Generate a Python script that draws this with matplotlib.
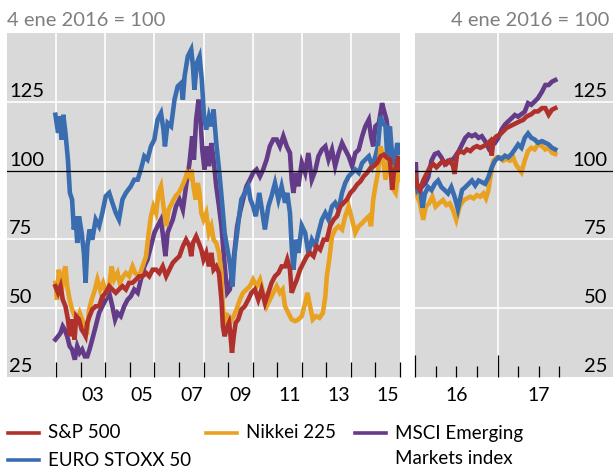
import matplotlib
matplotlib.use("Agg")
import matplotlib.pyplot as plt
from matplotlib.lines import Line2D
from matplotlib.transforms import blended_transform_factory

plt.rcParams['font.family'] = ['Lato', 'DejaVu Sans']

# ---------------- data (index, 4 ene 2016 = 100) ----------------
# Left panel: 2002 - 2016
sp_years = [2001.97, 2002.08, 2002.18, 2002.27, 2002.38, 2002.48, 2002.56, 2002.65, 2002.75, 2002.82, 2002.93,
            2003.04, 2003.13, 2003.20, 2003.27, 2003.36, 2003.47, 2003.61, 2003.75, 2003.88, 2004.02, 2004.16,
            2004.29, 2004.43, 2004.56, 2004.70, 2004.84, 2004.97, 2005.11, 2005.25, 2005.38, 2005.52, 2005.66,
            2005.79, 2005.93, 2006.07, 2006.20, 2006.34, 2006.48, 2006.61, 2006.75, 2006.88, 2007.02, 2007.16,
            2007.29, 2007.43, 2007.50, 2007.57, 2007.70, 2007.81, 2007.91, 2008.00, 2008.11, 2008.22, 2008.32,
            2008.41, 2008.52, 2008.63, 2008.73, 2008.79, 2008.86, 2008.93, 2009.04, 2009.09, 2009.16, 2009.23,
            2009.31, 2009.41, 2009.54, 2009.68, 2009.82, 2009.95, 2010.09, 2010.23, 2010.36, 2010.50, 2010.64,
            2010.77, 2010.91, 2011.05, 2011.18, 2011.32, 2011.41, 2011.52, 2011.59, 2011.69, 2011.80, 2011.93,
            2012.07, 2012.21, 2012.34, 2012.48, 2012.61, 2012.75, 2012.89, 2013.02, 2013.16, 2013.30, 2013.43,
            2013.57, 2013.71, 2013.84, 2013.98, 2014.11, 2014.25, 2014.39, 2014.52, 2014.66, 2014.80, 2014.93,
            2015.07, 2015.21, 2015.34, 2015.48, 2015.59, 2015.68, 2015.75, 2015.85, 2015.93, 2016.00]
sp_vals = [58.0, 55.6, 58.0, 53.1, 50.7, 45.9, 39.8, 45.9, 38.6, 47.1, 45.9,
           42.2, 41.0, 39.8, 44.7, 47.1, 49.5, 50.7, 50.7, 54.3, 55.6, 58.0,
           56.8, 55.6, 56.8, 58.0, 56.8, 59.2, 59.2, 60.4, 61.6, 61.6, 62.8,
           61.6, 64.0, 64.0, 62.8, 65.2, 61.6, 64.0, 66.5, 67.7, 68.9, 72.5,
           74.9, 72.5, 68.9, 73.7, 76.1, 73.7, 71.3, 67.7, 70.1, 65.2, 70.1,
           64.0, 65.2, 62.8, 53.1, 43.4, 39.8, 42.2, 44.7, 41.0, 33.8, 39.8,
           44.7, 45.9, 49.5, 50.7, 53.1, 55.6, 56.8, 53.1, 56.8, 51.9, 55.6,
           59.2, 61.6, 62.8, 65.2, 65.2, 67.7, 64.0, 55.6, 58.0, 60.4, 64.0,
           66.5, 68.9, 70.1, 68.9, 72.5, 71.3, 74.9, 74.9, 80.0, 82.2, 83.4,
           87.0, 88.3, 89.5, 91.9, 93.1, 94.9, 96.1, 97.9, 99.2, 101.0, 101.6,
           102.8, 105.2, 105.8, 104.6, 104.0, 93.1, 99.2, 101.6, 105.2, 100.4]

eu_years = [2001.97, 2002.08, 2002.15, 2002.22, 2002.29, 2002.38, 2002.48, 2002.56, 2002.65, 2002.72, 2002.79,
            2002.86, 2002.93, 2003.04, 2003.13, 2003.20, 2003.27, 2003.36, 2003.47, 2003.61, 2003.75, 2003.88,
            2004.02, 2004.16, 2004.29, 2004.43, 2004.56, 2004.70, 2004.84, 2005.04, 2005.18, 2005.32, 2005.45,
            2005.59, 2005.72, 2005.86, 2006.00, 2006.13, 2006.27, 2006.37, 2006.43, 2006.54, 2006.68, 2006.82,
            2006.95, 2007.09, 2007.16, 2007.23, 2007.36, 2007.50, 2007.57, 2007.63, 2007.73, 2007.84, 2007.93,
            2008.02, 2008.11, 2008.22, 2008.32, 2008.41, 2008.52, 2008.66, 2008.77, 2008.86, 2009.00, 2009.09,
            2009.18, 2009.27, 2009.37, 2009.45, 2009.54, 2009.68, 2009.82, 2009.91, 2010.02, 2010.13, 2010.27,
            2010.40, 2010.50, 2010.64, 2010.77, 2010.91, 2011.05, 2011.18, 2011.32, 2011.41, 2011.52, 2011.59,
            2011.66, 2011.77, 2011.86, 2012.00, 2012.14, 2012.27, 2012.41, 2012.55, 2012.68, 2012.82, 2012.96,
            2013.09, 2013.23, 2013.36, 2013.50, 2013.64, 2013.77, 2013.91, 2014.05, 2014.18, 2014.32, 2014.46,
            2014.59, 2014.73, 2014.87, 2015.00, 2015.10, 2015.21, 2015.30, 2015.41, 2015.48, 2015.59, 2015.68,
            2015.78, 2015.89, 2016.00]
eu_vals = [120.3, 113.7, 119.7, 111.3, 120.3, 113.7, 104.0, 91.9, 89.5, 78.6, 83.4,
           73.7, 83.4, 77.4, 70.1, 59.2, 72.5, 78.6, 74.9, 82.2, 79.8, 84.6,
           90.7, 91.9, 88.3, 84.6, 82.2, 89.5, 91.9, 94.3, 96.7, 96.7, 100.4,
           105.2, 104.0, 108.8, 111.3, 118.5, 120.9, 114.9, 108.8, 117.3, 116.1, 125.8,
           130.6, 131.8, 125.8, 134.3, 141.5, 144.0, 137.9, 129.4, 139.1, 141.5, 133.1,
           119.7, 114.9, 119.7, 116.1, 122.2, 110.0, 97.9, 87.0, 77.4, 70.1, 65.2,
           57.9, 70.1, 77.4, 83.4, 89.5, 91.9, 94.3, 89.5, 87.0, 83.4, 91.9,
           84.6, 78.6, 87.0, 90.7, 95.5, 89.5, 94.3, 88.3, 91.9, 84.6, 72.5,
           64.0, 74.9, 70.1, 80.0, 77.4, 70.1, 74.9, 72.5, 77.4, 82.2, 84.6,
           82.2, 87.0, 88.3, 85.8, 91.9, 95.5, 97.9, 99.2, 100.4, 99.2, 102.8,
           104.0, 105.2, 101.6, 105.2, 108.8, 119.7, 117.3, 116.1, 105.2, 116.1, 105.2,
           102.8, 110.0, 106.4]

nk_years = [2001.97, 2002.04, 2002.11, 2002.22, 2002.31, 2002.38, 2002.45, 2002.55, 2002.65, 2002.76, 2002.86,
            2002.96, 2003.06, 2003.16, 2003.27, 2003.34, 2003.45, 2003.58, 2003.68, 2003.79, 2003.91, 2004.02,
            2004.16, 2004.26, 2004.36, 2004.50, 2004.59, 2004.73, 2004.84, 2004.97, 2005.11, 2005.22, 2005.38,
            2005.52, 2005.66, 2005.77, 2005.86, 2005.96, 2006.07, 2006.17, 2006.27, 2006.37, 2006.48, 2006.58,
            2006.72, 2006.86, 2006.99, 2007.13, 2007.24, 2007.33, 2007.43, 2007.51, 2007.59, 2007.68, 2007.77,
            2007.84, 2007.91, 2008.00, 2008.11, 2008.22, 2008.32, 2008.41, 2008.52, 2008.63, 2008.73, 2008.79,
            2008.86, 2008.93, 2009.04, 2009.14, 2009.23, 2009.34, 2009.48, 2009.61, 2009.75, 2009.89, 2010.02,
            2010.16, 2010.30, 2010.43, 2010.57, 2010.70, 2010.84, 2010.98, 2011.11, 2011.22, 2011.32, 2011.45,
            2011.59, 2011.73, 2011.86, 2012.00, 2012.14, 2012.23, 2012.34, 2012.45, 2012.59, 2012.72, 2012.86,
            2012.96, 2013.02, 2013.12, 2013.23, 2013.36, 2013.50, 2013.64, 2013.77, 2013.91, 2014.05, 2014.18,
            2014.32, 2014.46, 2014.59, 2014.73, 2014.82, 2014.91, 2015.00, 2015.10, 2015.21, 2015.30, 2015.41,
            2015.52, 2015.64, 2015.73, 2015.82, 2015.92, 2016.00]
nk_vals = [59.2, 53.1, 64.0, 55.6, 62.8, 65.2, 58.0, 53.1, 49.5, 47.1, 45.9,
           48.3, 45.9, 43.4, 42.2, 49.5, 53.1, 56.8, 60.4, 56.8, 59.2, 55.6,
           58.0, 65.2, 60.4, 62.8, 59.2, 61.6, 62.8, 61.6, 65.2, 62.8, 61.6,
           65.2, 68.9, 77.4, 83.4, 87.0, 84.6, 91.9, 94.3, 87.0, 79.8, 85.8,
           88.3, 90.7, 91.9, 94.3, 96.7, 99.2, 97.9, 100.4, 94.3, 89.5, 95.5,
           91.9, 84.6, 82.2, 84.6, 77.4, 79.8, 74.9, 73.7, 70.1, 62.8, 50.7,
           41.0, 48.3, 43.4, 45.9, 47.1, 49.5, 53.1, 55.6, 56.8, 58.0, 60.4,
           58.0, 60.4, 55.6, 50.7, 53.1, 55.6, 58.0, 55.6, 56.8, 50.7, 48.3,
           45.9, 45.3, 45.9, 47.1, 51.9, 55.6, 50.7, 45.9, 47.1, 46.5, 48.3,
           54.3, 61.6, 67.7, 76.1, 78.6, 79.8, 78.6, 83.4, 87.0, 82.2, 77.4,
           79.8, 80.9, 82.2, 83.4, 79.8, 89.5, 94.3, 99.2, 108.8, 105.2, 96.7,
           102.8, 101.6, 93.1, 91.9, 99.2, 96.7]

em_years = [2001.97, 2002.08, 2002.18, 2002.27, 2002.35, 2002.45, 2002.55, 2002.65, 2002.76, 2002.86, 2002.96,
            2003.06, 2003.17, 2003.27, 2003.36, 2003.47, 2003.61, 2003.75, 2003.88, 2004.02, 2004.16, 2004.29,
            2004.40, 2004.50, 2004.63, 2004.77, 2004.91, 2005.04, 2005.18, 2005.32, 2005.45, 2005.59, 2005.72,
            2005.86, 2006.00, 2006.13, 2006.27, 2006.37, 2006.45, 2006.54, 2006.64, 2006.75, 2006.88, 2007.02,
            2007.16, 2007.29, 2007.43, 2007.54, 2007.61, 2007.70, 2007.80, 2007.88, 2007.95, 2008.04, 2008.14,
            2008.22, 2008.32, 2008.41, 2008.52, 2008.63, 2008.73, 2008.82, 2008.90, 2008.97, 2009.07, 2009.16,
            2009.27, 2009.37, 2009.48, 2009.61, 2009.75, 2009.89, 2010.02, 2010.16, 2010.30, 2010.43, 2010.57,
            2010.70, 2010.84, 2010.98, 2011.11, 2011.25, 2011.39, 2011.52, 2011.59, 2011.66, 2011.77, 2011.86,
            2012.00, 2012.14, 2012.27, 2012.41, 2012.55, 2012.68, 2012.82, 2012.96, 2013.09, 2013.23, 2013.36,
            2013.50, 2013.64, 2013.77, 2013.91, 2014.05, 2014.18, 2014.32, 2014.46, 2014.59, 2014.73, 2014.82,
            2014.91, 2015.00, 2015.14, 2015.27, 2015.34, 2015.45, 2015.55, 2015.64, 2015.75, 2015.89, 2016.00]
em_vals = [38.6, 39.8, 41.0, 43.4, 42.2, 39.8, 36.2, 35.0, 31.3, 36.2, 33.8,
           35.0, 32.5, 32.5, 35.0, 38.6, 43.4, 48.3, 50.7, 53.1, 55.6, 50.7,
           45.9, 48.3, 47.1, 50.7, 53.1, 54.3, 56.8, 55.6, 60.4, 65.2, 67.7,
           72.5, 77.4, 79.8, 82.2, 74.9, 68.9, 77.4, 79.8, 82.2, 87.0, 89.5,
           85.8, 94.3, 102.8, 112.5, 104.0, 118.5, 125.8, 118.5, 107.6, 100.4, 108.8,
           101.6, 110.0, 104.0, 94.3, 87.0, 79.8, 70.1, 61.6, 55.6, 56.8, 62.8,
           71.3, 79.8, 84.6, 89.5, 94.3, 96.7, 99.2, 100.4, 97.9, 100.4, 104.0,
           108.8, 111.3, 111.3, 108.8, 112.5, 108.8, 106.4, 96.7, 91.9, 99.2, 94.3,
           102.8, 99.2, 106.4, 96.7, 100.0, 105.2, 107.6, 108.8, 104.0, 107.6, 101.6,
           106.4, 110.0, 107.6, 105.2, 101.6, 106.4, 107.6, 112.5, 116.1, 118.5, 112.5,
           108.8, 116.1, 117.3, 124.5, 122.0, 118.5, 111.3, 106.4, 101.6, 100.4, 102.8]

# Right panel: 2016 - 2017
sp2_years = [2016.00, 2016.03, 2016.06, 2016.10, 2016.14, 2016.18, 2016.22, 2016.26, 2016.30, 2016.34, 2016.38,
             2016.42, 2016.46, 2016.48, 2016.51, 2016.55, 2016.59, 2016.63, 2016.67, 2016.71, 2016.75, 2016.79,
             2016.83, 2016.87, 2016.91, 2016.93, 2016.95, 2016.99, 2017.03, 2017.07, 2017.11, 2017.15, 2017.19,
             2017.23, 2017.27, 2017.31, 2017.35, 2017.41, 2017.45, 2017.49, 2017.54, 2017.58, 2017.62, 2017.66,
             2017.70]
sp2_vals = [98.8, 94.0, 92.9, 96.4, 98.8, 101.2, 102.4, 101.2, 102.4, 103.6, 102.4,
            103.6, 101.8, 98.8, 106.0, 107.1, 106.5, 107.7, 107.1, 108.3, 108.9, 108.3,
            108.9, 109.5, 110.7, 105.5, 111.3, 112.5, 113.1, 114.3, 115.5, 116.1, 116.7,
            117.3, 117.9, 118.4, 119.6, 120.5, 121.5, 121.5, 122.7, 122.7, 120.3, 122.1,
            122.7]

eu2_years = [2016.00, 2016.03, 2016.06, 2016.09, 2016.12, 2016.16, 2016.20, 2016.24, 2016.28, 2016.32, 2016.36,
             2016.40, 2016.44, 2016.48, 2016.52, 2016.57, 2016.61, 2016.65, 2016.69, 2016.73, 2016.77, 2016.81,
             2016.85, 2016.89, 2016.93, 2016.97, 2017.01, 2017.05, 2017.09, 2017.13, 2017.17, 2017.21, 2017.25,
             2017.29, 2017.33, 2017.37, 2017.41, 2017.45, 2017.49, 2017.54, 2017.58, 2017.62, 2017.66, 2017.70]
eu2_vals = [97.6, 92.9, 94.0, 86.5, 91.7, 94.0, 92.9, 95.2, 96.4, 94.0, 92.9,
            91.7, 94.0, 90.5, 86.0, 92.9, 94.0, 95.2, 96.4, 94.6, 96.4, 95.8,
            95.2, 97.6, 101.2, 103.6, 104.8, 104.2, 105.4, 104.8, 106.0, 107.7, 109.5,
            108.3, 111.9, 113.5, 111.9, 111.3, 110.1, 110.7, 110.1, 109.5, 108.3, 107.7]

nk2_years = [2016.00, 2016.03, 2016.06, 2016.10, 2016.13, 2016.17, 2016.21, 2016.25, 2016.29, 2016.34, 2016.38,
             2016.42, 2016.46, 2016.50, 2016.54, 2016.59, 2016.63, 2016.67, 2016.71, 2016.75, 2016.79, 2016.83,
             2016.86, 2016.89, 2016.92, 2016.95, 2016.99, 2017.03, 2017.07, 2017.11, 2017.15, 2017.19, 2017.22,
             2017.26, 2017.29, 2017.33, 2017.37, 2017.41, 2017.45, 2017.49, 2017.54, 2017.58, 2017.62, 2017.66,
             2017.70]
nk2_vals = [96.4, 90.5, 88.1, 82.1, 86.9, 88.1, 90.5, 86.9, 88.1, 89.3, 87.5,
            88.1, 85.7, 82.1, 86.9, 89.3, 89.9, 90.5, 89.9, 91.1, 90.5, 91.7,
            89.9, 92.9, 98.8, 103.6, 104.8, 104.8, 103.6, 104.2, 103.6, 104.8, 102.4,
            100.6, 99.4, 103.6, 107.1, 108.3, 107.7, 109.5, 108.9, 107.7, 108.3, 106.5,
            106.0]

em2_years = [2016.00, 2016.01, 2016.02, 2016.05, 2016.08, 2016.12, 2016.16, 2016.20, 2016.24, 2016.28, 2016.32,
             2016.36, 2016.40, 2016.44, 2016.48, 2016.53, 2016.57, 2016.61, 2016.65, 2016.69, 2016.73, 2016.77,
             2016.81, 2016.85, 2016.89, 2016.93, 2016.97, 2017.01, 2017.05, 2017.09, 2017.13, 2017.17, 2017.21,
             2017.25, 2017.29, 2017.33, 2017.37, 2017.41, 2017.45, 2017.49, 2017.54, 2017.58, 2017.62, 2017.66,
             2017.70]
em2_vals = [100.0, 103.0, 95.2, 92.9, 94.0, 95.2, 97.6, 103.6, 106.0, 106.5, 104.8,
            102.4, 103.6, 103.6, 104.8, 107.1, 109.5, 111.9, 113.1, 112.5, 113.1, 111.9,
            112.5, 110.7, 108.3, 110.7, 110.1, 111.9, 114.9, 116.7, 117.9, 119.0, 120.2,
            119.6, 120.5, 121.4, 124.5, 123.9, 125.1, 126.3, 128.7, 131.1, 131.1, 132.3,
            132.9]

labels = ["S&P 500", "EURO STOXX 50", "Nikkei 225", "MSCI Emerging\nMarkets index"]
yticks = [25, 50, 75, 100, 125]
left_xlabels = ["03", "05", "07", "09", "11", "13", "15"]
right_xlabels = ["16", "17"]
base_label = "4 ene 2016 = 100"

# ---------------- style ----------------
C_RED = "#b0302c"
C_BLUE = "#3a6db0"
C_ORANGE = "#e9a122"
C_PURPLE = "#633b88"
BG = "#d9d9d9"
LW = 3.3

W, H = 613, 468
fig = plt.figure(figsize=(W / 100, H / 100), dpi=100)

def fx(px):
    return px / W

def fy(py):
    return 1 - py / H

axL = fig.add_axes([fx(7), fy(377), fx(400 - 7), (377 - 33) / H])
axR = fig.add_axes([fx(415), fy(377), fx(613 - 415), (377 - 33) / H])

# drawing order (bottom to top): purple, blue, orange, red
series_L = [(em_years, em_vals, C_PURPLE), (eu_years, eu_vals, C_BLUE),
            (nk_years, nk_vals, C_ORANGE), (sp_years, sp_vals, C_RED)]
series_R = [(em2_years, em2_vals, C_PURPLE), (nk2_years, nk2_vals, C_ORANGE),
            (eu2_years, eu2_vals, C_BLUE), (sp2_years, sp2_vals, C_RED)]

for ax, series in ((axL, series_L), (axR, series_R)):
    ax.set_facecolor(BG)
    for s in ax.spines.values():
        s.set_visible(False)
    ax.set_ylim(25, 150)
    for v in yticks[1:]:
        if v == 100:
            ax.axhline(v, color="black", lw=0.9, zorder=3)
        else:
            ax.axhline(v, color="white", lw=1.2, zorder=1)
    for xs, ys, c in series:
        ax.plot(xs, ys, color=c, lw=LW, solid_joinstyle="miter", zorder=2)
    ax.set_yticks([])

# left panel x axis
axL.set_xlim(2000, 2016)
axL.set_xticks(range(2002, 2017))
axL.set_xticklabels([])
axL.tick_params(axis="x", direction="in", length=11, width=0.9, color="black")
for yr in range(2002, 2016, 2):
    axL.axvline(yr, color="white", lw=1.2, zorder=1)
trL = blended_transform_factory(axL.transData, axL.transAxes)
for i, lab in enumerate(left_xlabels):
    axL.text(2003.5 + 2 * i, -0.055, lab, transform=trL, ha="center", va="center",
             fontsize=14, color="black")

# right panel x axis
axR.set_xlim(2016, 2018.4)
axR.set_xticks([2016, 2017])
axR.set_xticks([2016.25, 2016.5, 2016.75, 2017.25, 2017.5, 2017.75], minor=True)
axR.set_xticklabels([])
axR.tick_params(axis="x", which="major", direction="in", length=16, width=0.9, color="black")
axR.tick_params(axis="x", which="minor", direction="in", length=8, width=0.9, color="black")
axR.axvline(2017, color="white", lw=1.2, zorder=1)
trR = blended_transform_factory(axR.transData, axR.transAxes)
for i, lab in enumerate(right_xlabels):
    axR.text(2016.5 + i, -0.055, lab, transform=trR, ha="center", va="center",
             fontsize=14, color="black")

# y labels inside
trYL = blended_transform_factory(axL.transAxes, axL.transData)
trYR = blended_transform_factory(axR.transAxes, axR.transData)
for v in yticks:
    axL.text(0.006, v + 1.8, str(v), transform=trYL, ha="left", va="baseline",
             fontsize=14.5, color="black", zorder=4)
    axR.text(0.97, v + 1.8, str(v), transform=trYR, ha="right", va="baseline",
             fontsize=14.5, color="black", zorder=4)

# header texts
fig.text(fx(7), fy(20), base_label, ha="left", va="center", fontsize=14.5, color="#7f7f7f")
fig.text(fx(609), fy(20), base_label, ha="right", va="center", fontsize=14.5, color="#7f7f7f")

# legend (manual)
leg_items = [(C_RED, labels[0], 8, 433), (C_BLUE, labels[1], 8, 460),
             (C_ORANGE, labels[2], 206, 433), (C_PURPLE, labels[3], 355, 433)]
for c, lab, x0, yc in leg_items:
    fig.add_artist(Line2D([fx(x0), fx(x0 + 31)], [fy(yc), fy(yc)], color=c, lw=2.6,
                          transform=fig.transFigure))
    if "\n" in lab:
        fig.text(fx(x0 + 40), fy(yc - 8), lab, ha="left", va="top",
                 fontsize=13.5, color="black", linespacing=1.6)
    else:
        fig.text(fx(x0 + 40), fy(yc), lab, ha="left", va="center",
                 fontsize=13.5, color="black")

fig.savefig("out.png", dpi=100)
